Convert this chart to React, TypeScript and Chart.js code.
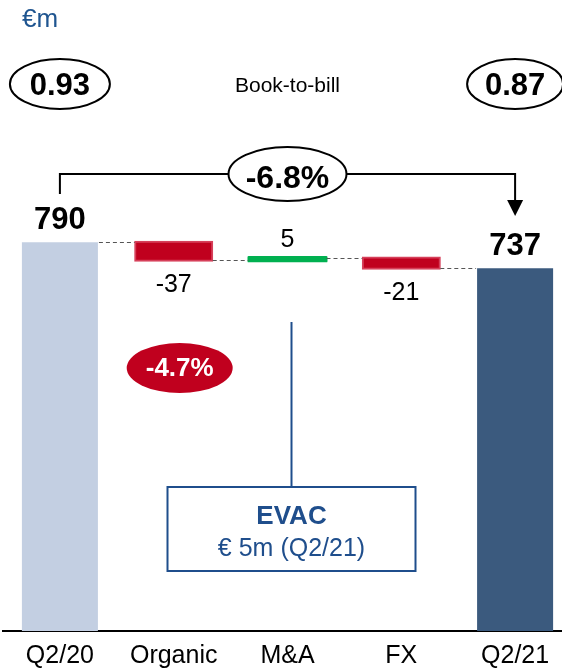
import React, { useEffect, useRef } from "react";
import { Chart, registerables } from "chart.js";

Chart.register(...registerables);

const categories = ["Q2/20", "Organic", "M&A", "FX", "Q2/21"];
const values = [790, -37, 5, -21, 737];
const isTotal = [true, false, false, false, true];
const valueLabels = ["790", "-37", "5", "-21", "737"];
const barColors = ["#c3cfe2", "#c0001e", "#00b050", "#c0001e", "#3b5a7e"];
const barBorders = ["#c3cfe2", "#d6405a", "#00b050", "#d6405a", "#3b5a7e"];
const bookToBill = ["0.93", "0.87"];
const bookToBillTitle = "Book-to-bill";
const unitLabel = "€m";
const totalChange = "-6.8%";
const organicChange = "-4.7%";
const calloutTitle = "EVAC";
const calloutText = "€ 5m (Q2/21)";

const FONT = '"Liberation Sans", Arial, Helvetica, sans-serif';
const BLUE = "#1f4e8c";

function buildRanges(): [number, number][] {
  let run = 0;
  return values.map((v, i) => {
    if (isTotal[i]) {
      run = v;
      return [0, v] as [number, number];
    }
    const r: [number, number] = [run, run + v];
    run += v;
    return r;
  });
}

function oval(ctx: CanvasRenderingContext2D, cx: number, cy: number, rx: number, ry: number, fill: string, stroke: string | null, lw: number) {
  ctx.beginPath();
  ctx.ellipse(cx, cy, rx, ry, 0, 0, Math.PI * 2);
  ctx.fillStyle = fill;
  ctx.fill();
  if (stroke) {
    ctx.strokeStyle = stroke;
    ctx.lineWidth = lw;
    ctx.stroke();
  }
}

const overlayPlugin = {
  id: "overlay",
  afterDraw(chart: any) {
    const ctx: CanvasRenderingContext2D = chart.ctx;
    const ys = chart.scales.y;
    const bars = chart.getDatasetMeta(0).data;
    const ranges = buildRanges();
    ctx.save();

    // dashed connectors
    ctx.strokeStyle = "#555555";
    ctx.lineWidth = 1;
    ctx.setLineDash([4, 3]);
    for (let i = 0; i < bars.length - 1; i++) {
      const level = ranges[i][1];
      const y = Math.round(ys.getPixelForValue(level)) + 0.5;
      const b0 = bars[i];
      const b1 = bars[i + 1];
      ctx.beginPath();
      ctx.moveTo(b0.x + b0.width / 2 + 1, y);
      ctx.lineTo(b1.x - b1.width / 2 - 1, y);
      ctx.stroke();
    }
    ctx.setLineDash([]);

    // value labels
    ctx.textAlign = "center";
    ctx.textBaseline = "alphabetic";
    ctx.fillStyle = "#000";
    bars.forEach((b: any, i: number) => {
      const [s, e] = ranges[i];
      const top = ys.getPixelForValue(Math.max(s, e));
      const bot = ys.getPixelForValue(Math.min(s, e));
      if (isTotal[i]) {
        ctx.font = `bold 31px ${FONT}`;
        ctx.fillText(valueLabels[i], b.x, top - 13);
      } else if (values[i] >= 0) {
        ctx.font = `25px ${FONT}`;
        ctx.fillText(valueLabels[i], b.x, top - 11);
      } else {
        ctx.font = `25px ${FONT}`;
        ctx.fillText(valueLabels[i], b.x, bot + 32);
      }
    });

    const x0 = bars[0].x;
    const x4 = bars[bars.length - 1].x;
    const mid = (x0 + x4) / 2;

    // bracket with arrow
    ctx.strokeStyle = "#000";
    ctx.lineWidth = 2;
    ctx.beginPath();
    ctx.moveTo(x0, 194);
    ctx.lineTo(x0, 174);
    ctx.lineTo(x4, 174);
    ctx.lineTo(x4, 202);
    ctx.stroke();
    ctx.beginPath();
    ctx.moveTo(x4 - 8, 200);
    ctx.lineTo(x4 + 8, 200);
    ctx.lineTo(x4, 216);
    ctx.closePath();
    ctx.fillStyle = "#000";
    ctx.fill();

    oval(ctx, mid, 174, 59, 27, "#fff", "#000", 2);
    ctx.fillStyle = "#000";
    ctx.font = `bold 32px ${FONT}`;
    ctx.textBaseline = "alphabetic";
    ctx.fillText(totalChange, mid, 188);

    // book-to-bill
    oval(ctx, x0, 84, 50, 25, "#fff", "#000", 2);
    oval(ctx, x4, 84, 48, 25, "#fff", "#000", 2);
    ctx.fillStyle = "#000";
    ctx.font = `bold 31px ${FONT}`;
    ctx.fillText(bookToBill[0], x0, 95);
    ctx.fillText(bookToBill[1], x4, 95);
    ctx.font = `21px ${FONT}`;
    ctx.fillText(bookToBillTitle, mid, 92);

    // unit
    ctx.textAlign = "left";
    ctx.fillStyle = "#1f5590";
    ctx.font = `26px ${FONT}`;
    ctx.fillText(unitLabel, 22, 27);

    // organic change oval
    const ox = bars[1].x + 6;
    oval(ctx, ox, 368, 53, 25, "#c0001e", null, 0);
    ctx.textAlign = "center";
    ctx.textBaseline = "middle";
    ctx.fillStyle = "#fff";
    ctx.font = `bold 26px ${FONT}`;
    ctx.fillText(organicChange, ox, 369);

    // EVAC callout
    const cx = bars[2].x + 4;
    ctx.strokeStyle = BLUE;
    ctx.lineWidth = 2;
    ctx.beginPath();
    ctx.moveTo(cx, 322);
    ctx.lineTo(cx, 487);
    ctx.stroke();
    ctx.fillStyle = "#fff";
    ctx.fillRect(cx - 124, 487, 248, 84);
    ctx.strokeRect(cx - 124, 487, 248, 84);
    ctx.fillStyle = BLUE;
    ctx.textBaseline = "alphabetic";
    ctx.font = `bold 26px ${FONT}`;
    ctx.fillText(calloutTitle, cx, 524);
    ctx.font = `25px ${FONT}`;
    ctx.fillText(calloutText, cx, 556);

    ctx.restore();
  },
};

export default function App() {
  const ref = useRef<HTMLCanvasElement>(null);
  useEffect(() => {
    const chart = new Chart(ref.current as HTMLCanvasElement, {
      type: "bar",
      data: {
        labels: categories,
        datasets: [
          {
            data: buildRanges() as any,
            backgroundColor: barColors,
            borderColor: barBorders,
            borderWidth: [0, 2, 0, 2, 0],
            borderSkipped: false,
            borderRadius: [0, 0, 3, 0, 0],
            inflateAmount: [0, 1.5, 2, 1.5, 0],
            barPercentage: 0.668,
            categoryPercentage: 1,
          } as any,
        ],
      },
      options: {
        responsive: false,
        animation: false,
        devicePixelRatio: 1,
        layout: { padding: { left: 3, right: 8, top: 0, bottom: 0 } },
        plugins: { legend: { display: false }, tooltip: { enabled: false } },
        scales: {
          x: {
            grid: { display: false, drawTicks: false },
            border: { display: true, color: "#000", width: 2 },
            ticks: {
              color: "#000",
              font: { family: FONT, size: 25, lineHeight: 1 },
              padding: 13,
              maxRotation: 0,
              autoSkip: false,
            },
          },
          y: { display: false, min: 0, max: 1282 },
        },
      } as any,
      plugins: [overlayPlugin],
    });
    return () => chart.destroy();
  }, []);
  return (
    <div style={{ position: "absolute", left: 0, top: 0, width: 562, height: 670, overflow: "hidden", background: "#fff" }}>
      <canvas ref={ref} width={580} height={682} style={{ display: "block" }} />
    </div>
  );
}
